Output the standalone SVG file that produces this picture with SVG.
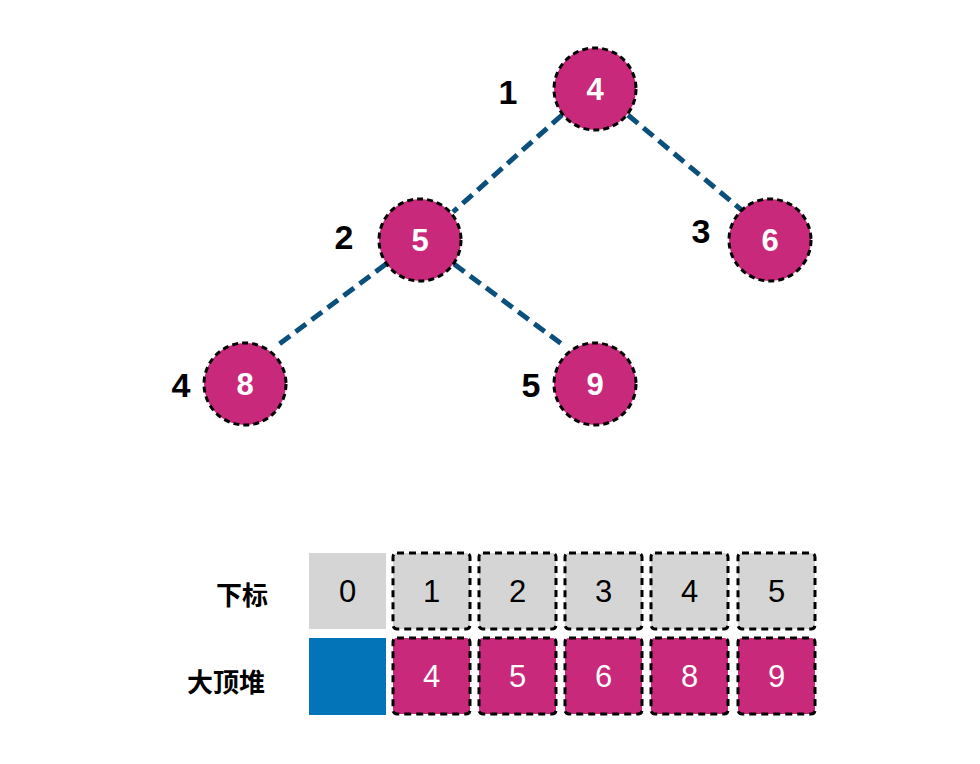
<svg xmlns="http://www.w3.org/2000/svg" width="980" height="764" viewBox="0 0 980 764">
<style>
.edge{stroke:#0b4f7c;stroke-width:5;stroke-dasharray:13 7;fill:none}
.node circle{fill:#c8297b;stroke:#000;stroke-width:3;stroke-dasharray:6 4}
.val{font-family:"Liberation Sans",Arial,sans-serif;font-size:31px;font-weight:bold;fill:#fff;text-anchor:middle}
.idx{font-family:"Liberation Sans",Arial,sans-serif;font-size:34px;font-weight:bold;fill:#000;text-anchor:middle}
.cell{stroke:#000;stroke-width:3;stroke-dasharray:7 5}
.gray{fill:#d5d5d5}
.mag{fill:#c8297b}
.ct{font-family:"Liberation Sans",Arial,sans-serif;font-size:31px;text-anchor:middle}
.rl{font-family:"Liberation Sans","Noto Sans CJK SC",sans-serif;font-size:26px;font-weight:bold;fill:#000;text-anchor:middle}
</style>
<rect width="980" height="764" fill="#fff"/>
<g id="edges">
<line class="edge" x1="562" y1="115" x2="453" y2="212"/>
<line class="edge" x1="628" y1="115" x2="744" y2="212"/>
<line class="edge" x1="386" y1="264" x2="278" y2="345"/>
<line class="edge" x1="454" y1="264" x2="563" y2="345"/>
</g>
<g id="n1" class="node"><circle cx="595" cy="89" r="41"/><text class="val" x="595" y="100">4</text><text class="idx" x="508" y="104">1</text></g>
<g id="n2" class="node"><circle cx="420" cy="240" r="41"/><text class="val" x="420" y="251">5</text><text class="idx" x="344" y="249">2</text></g>
<g id="n3" class="node"><circle cx="770" cy="240" r="41"/><text class="val" x="770" y="251">6</text><text class="idx" x="701" y="243">3</text></g>
<g id="n4" class="node"><circle cx="245" cy="384" r="41"/><text class="val" x="245" y="395">8</text><text class="idx" x="181" y="397">4</text></g>
<g id="n5" class="node"><circle cx="595" cy="384" r="41"/><text class="val" x="595" y="395">9</text><text class="idx" x="531" y="397">5</text></g>
<g id="table">
<text class="rl" x="242" y="605">下标</text>
<text class="rl" x="226" y="692">大顶堆</text>
<rect x="309" y="553" width="77" height="76" fill="#d5d5d5"/>
<text class="ct" x="347.5" y="602" fill="#000">0</text>
<rect x="309" y="638" width="77" height="77" fill="#0474b8"/>
<g id="c1"><rect class="cell gray" x="393" y="553" width="77" height="76" rx="4"/><text class="ct" x="431.5" y="602">1</text><rect class="cell mag" x="393" y="638" width="77" height="76" rx="4"/><text class="ct" x="431.5" y="687" fill="#fff">4</text></g>
<g id="c2"><rect class="cell gray" x="479" y="553" width="77" height="76" rx="4"/><text class="ct" x="517.5" y="602">2</text><rect class="cell mag" x="479" y="638" width="77" height="76" rx="4"/><text class="ct" x="517.5" y="687" fill="#fff">5</text></g>
<g id="c3"><rect class="cell gray" x="565" y="553" width="77" height="76" rx="4"/><text class="ct" x="603.5" y="602">3</text><rect class="cell mag" x="565" y="638" width="77" height="76" rx="4"/><text class="ct" x="603.5" y="687" fill="#fff">6</text></g>
<g id="c4"><rect class="cell gray" x="651" y="553" width="77" height="76" rx="4"/><text class="ct" x="689.5" y="602">4</text><rect class="cell mag" x="651" y="638" width="77" height="76" rx="4"/><text class="ct" x="689.5" y="687" fill="#fff">8</text></g>
<g id="c5"><rect class="cell gray" x="738" y="553" width="77" height="76" rx="4"/><text class="ct" x="776.5" y="602">5</text><rect class="cell mag" x="738" y="638" width="77" height="76" rx="4"/><text class="ct" x="776.5" y="687" fill="#fff">9</text></g>
</g>
</svg>
